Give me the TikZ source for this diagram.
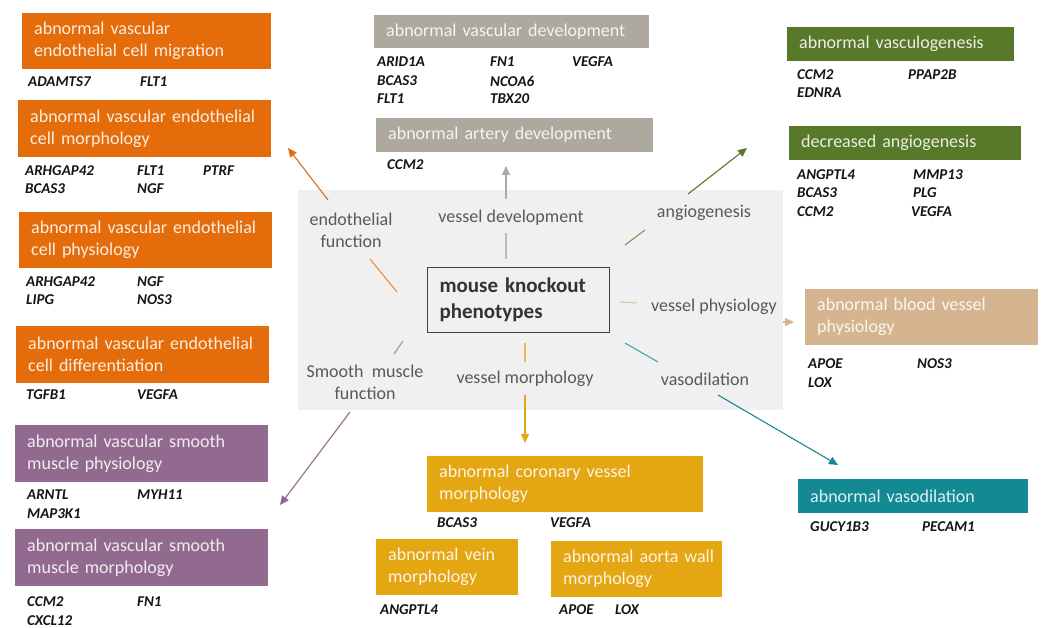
\documentclass[tikz,border=0pt]{standalone}
\usepackage{fontspec}
\setmainfont{Carlito}
\usetikzlibrary{arrows.meta}
\definecolor{cOrange}{HTML}{E46C0A}
\definecolor{cPurple}{HTML}{936A8F}
\definecolor{cGray}{HTML}{ADA99F}
\definecolor{cGreen}{HTML}{58792A}
\definecolor{cTan}{HTML}{D5B58F}
\definecolor{cTeal}{HTML}{138A93}
\definecolor{cGold}{HTML}{E4A613}
\definecolor{cPanel}{HTML}{F0F0F0}
\definecolor{cLabel}{HTML}{595959}
\definecolor{cGene}{HTML}{141414}
\tikzset{
  pbox/.style={anchor=north west, inner xsep=12pt, inner ysep=0pt, align=left,
    font=\fontsize{18}{22}\selectfont, text=white, text opacity=.88},
  gene/.style={anchor=west, inner sep=0pt, font=\fontsize{15}{18}\selectfont\bfseries\itshape, text=cGene},
  lbl/.style={align=center, inner sep=0pt, font=\fontsize{18}{22}\selectfont, text=cLabel},
  seg/.style={line width=1.1pt, opacity=.75},
  arr/.style={line width=1.1pt, -{Triangle[length=9pt,width=8pt]}},
}
\newcommand\pbox[7]{%
  \pgfmathsetmacro\bw{#4-#2}\pgfmathsetmacro\bh{#5-#3}\pgfmathsetmacro\tw{#4-#2-24}%
  \node[pbox, fill=#6, minimum width=\bw pt, minimum height=\bh pt, text width=\tw pt] (#1) at (#2,#3) {#7};}
\newcommand\gn[4]{\node[gene] (#1) at (#2,#3) {#4};}
\begin{document}
\begin{tikzpicture}[x=1pt,y=-1pt]
\fill[white] (0,0) rectangle (1042,628);
\useasboundingbox (0,0) rectangle (1042,628);
% central panel
\fill[cPanel] (298,190) rectangle (783,410);
\node[draw=black!75, line width=1pt, anchor=north west, minimum width=182pt, minimum height=65pt,
  text width=158pt, inner xsep=12pt, inner ysep=0pt, align=left,
  font=\fontsize{21}{26}\selectfont\bfseries, text=black!80] (center) at (427,267) {mouse knockout\\phenotypes};

% orange boxes
\pbox{b1}{22}{13}{271}{69}{cOrange}{abnormal vascular\\endothelial cell migration}
\gn{g1a}{28}{82}{ADAMTS7}\gn{g1b}{140}{82}{FLT1}
\pbox{b2}{18}{100}{271}{157}{cOrange}{abnormal vascular endothelial\\cell morphology}
\gn{g2a}{25}{171}{ARHGAP42}\gn{g2b}{137}{171}{FLT1}\gn{g2c}{203}{171}{PTRF}
\gn{g2d}{25}{189}{BCAS3}\gn{g2e}{137}{189}{NGF}
\pbox{b3}{19}{212}{272}{268}{cOrange}{abnormal vascular endothelial\\cell physiology}
\gn{g3a}{26}{282}{ARHGAP42}\gn{g3b}{137}{282}{NGF}
\gn{g3c}{26}{300}{LIPG}\gn{g3d}{137}{300}{NOS3}
\pbox{b4}{16}{326}{269}{383}{cOrange}{abnormal vascular endothelial\\cell differentiation}
\gn{g4a}{26}{395}{TGFB1}\gn{g4b}{137}{395}{VEGFA}
% purple boxes
\pbox{b5}{15}{425}{268}{482}{cPurple}{abnormal vascular smooth\\muscle physiology}
\gn{g5a}{27}{495}{ARNTL}\gn{g5b}{137}{495}{MYH11}
\gn{g5c}{27}{514}{MAP3K1}
\pbox{b6}{15}{529}{268}{586}{cPurple}{abnormal vascular smooth\\muscle morphology}
\gn{g6a}{27}{602}{CCM2}\gn{g6b}{137}{602}{FN1}
\gn{g6c}{27}{621}{CXCL12}
% gray boxes
\pbox{b7}{374}{15}{649}{48}{cGray}{abnormal vascular development}
\gn{g7a}{377}{62}{ARID1A}\gn{g7b}{490}{62}{FN1}\gn{g7c}{572}{62}{VEGFA}
\gn{g7d}{377}{81}{BCAS3}\gn{g7e}{490}{81}{NCOA6}
\gn{g7f}{377}{99}{FLT1}\gn{g7g}{490}{99}{TBX20}
\pbox{b8}{376}{118}{653}{152}{cGray}{abnormal artery development}
\gn{g8a}{387}{165}{CCM2}
% green boxes
\pbox{b9}{787}{27}{1014}{61}{cGreen}{abnormal vasculogenesis}
\gn{g9a}{797}{75}{CCM2}\gn{g9b}{908}{75}{PPAP2B}
\gn{g9c}{797}{93}{EDNRA}
\pbox{b10}{789}{126}{1021}{160}{cGreen}{decreased angiogenesis}
\gn{g10a}{797}{175}{ANGPTL4}\gn{g10b}{913}{175}{MMP13}
\gn{g10c}{797}{193}{BCAS3}\gn{g10d}{913}{193}{PLG}
\gn{g10e}{797}{212}{CCM2}\gn{g10f}{911}{212}{VEGFA}
% tan box
\pbox{b11}{805}{289}{1038}{345}{cTan}{abnormal blood vessel\\physiology}
\gn{g11a}{808}{364}{APOE}\gn{g11b}{917}{364}{NOS3}
\gn{g11c}{808}{383}{LOX}
% teal box
\pbox{b12}{798}{479}{1028}{513}{cTeal}{abnormal vasodilation}
\gn{g12a}{810}{527}{GUCY1B3}\gn{g12b}{922}{527}{PECAM1}
% gold boxes
\pbox{b13}{427}{456}{703}{512}{cGold}{abnormal coronary vessel\\morphology}
\gn{g13a}{437}{523}{BCAS3}\gn{g13b}{550}{523}{VEGFA}
\pbox{b14}{376}{539}{518}{595}{cGold}{abnormal vein\\morphology}
\gn{g14a}{380}{610}{ANGPTL4}
\fill[cGold] (551,541) rectangle (722,597);
\node[pbox, minimum height=56pt, text width=165pt] (b15) at (551,541) {abnormal aorta wall\\morphology};
\gn{g15a}{559}{610}{APOE}\gn{g15b}{615}{610}{LOX}

% labels
\node[lbl] (lEndo) at (351,230) {endothelial\\function};
\node[lbl] (lDev) at (511,218) {vessel development};
\node[lbl] (lAng) at (704,213) {angiogenesis};
\node[lbl] (lPhys) at (714,307) {vessel physiology};
\node[lbl] (lVaso) at (705,379) {vasodilation};
\node[lbl] (lMorph) at (525,379) {vessel morphology};
\node[lbl] (lSmooth) at (365,382) {Smooth\ \ muscle\\function};

% connector coordinates
\coordinate (o1) at (397,292); \coordinate (o2) at (370,259);
\coordinate (o3) at (328,200); \coordinate (o4) at (288,148);
\coordinate (d1) at (506,259); \coordinate (d2) at (506,233);
\coordinate (d3) at (506,199); \coordinate (d4) at (506,166);
\coordinate (a1) at (625,245); \coordinate (a2) at (645,230);
\coordinate (a3) at (688,194); \coordinate (a4) at (747,148);
\coordinate (p1) at (620,302); \coordinate (p2) at (637,303);
\coordinate (p3) at (783,322); \coordinate (p4) at (794,322);
\coordinate (v1) at (625,343); \coordinate (v2) at (658,362);
\coordinate (v3) at (718,395); \coordinate (v4) at (838,465);
\coordinate (m1) at (525,343); \coordinate (m2) at (525,362);
\coordinate (m3) at (525,395); \coordinate (m4) at (525,443);
\coordinate (s1) at (403,341); \coordinate (s2) at (394,354);
\coordinate (s3) at (350,412); \coordinate (s4) at (280,505);

\draw[seg, cOrange] (o1) -- (o2);
\draw[arr, cOrange] (o3) -- (o4);
\draw[seg, cGray] (d1) -- (d2);
\draw[arr, cGray] (d3) -- (d4);
\draw[seg, cGreen] (a1) -- (a2);
\draw[arr, cGreen] (a3) -- (a4);
\draw[seg, cTan] (p1) -- (p2);
\draw[arr, cTan] (p3) -- (p4);
\draw[seg, cTeal] (v1) -- (v2);
\draw[arr, cTeal] (v3) -- (v4);
\draw[seg, cGold] (m1) -- (m2);
\draw[arr, cGold] (m3) -- (m4);
\draw[seg, cPurple] (s1) -- (s2);
\draw[arr, cPurple] (s3) -- (s4);
\end{tikzpicture}
\end{document}
